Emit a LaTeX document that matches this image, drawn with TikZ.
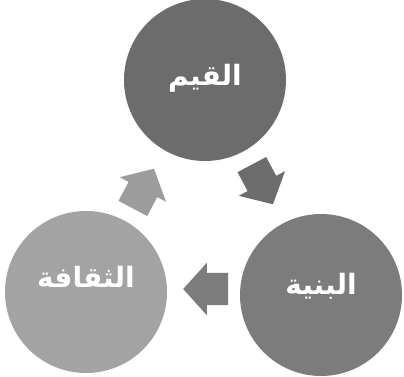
\documentclass[tikz,border=0pt]{standalone}
\usepackage{fontspec}
\usepackage{xcolor}
\newfontfamily\arabicfont[Script=Arabic]{DejaVu Sans}
\TeXXeTstate=1
\usepackage{tikz}
\usetikzlibrary{shapes.arrows}
\definecolor{darkdisc}{HTML}{6C6C6C}
\definecolor{middisc}{HTML}{7C7C7C}
\definecolor{lightdisc}{HTML}{A3A3A3}
\definecolor{lightarrow}{HTML}{9C9C9C}

\begin{document}
\begin{tikzpicture}[x=1pt,y=1pt,
disc/.style={circle,minimum size=162pt,inner sep=0pt},
disctext/.style={text=white,font=\arabicfont\bfseries\fontsize{28}{32}\selectfont},
blockarrow/.style={single arrow,minimum height=45pt,inner xsep=0pt,inner ysep=16pt,single arrow head extend=10pt,single arrow tip angle=96}]
\useasboundingbox[fill=white](0,0)rectangle(404,376);
\node[disc,fill=darkdisc](values)at(205,296){};
\node[disc,fill=middisc](structure)at(321,81){};
\node[disc,fill=lightdisc](culture)at(86,84){};
\node[disctext](values-text)at([yshift=2pt]values){\beginR القيم\endR};
\node[disctext](structure-text)at([yshift=9pt]structure){\beginR البنية\endR};
\node[disctext](culture-text)at([yshift=15pt]culture){\beginR الثقافة\endR};
\node[blockarrow,fill=darkdisc,rotate=-62](values-structure)at(259,198){};
\node[blockarrow,fill=middisc,rotate=180](structure-culture)at(213,87){};
\node[blockarrow,fill=lightarrow,rotate=62](culture-values)at(140,181){};
\end{tikzpicture}
\end{document}
